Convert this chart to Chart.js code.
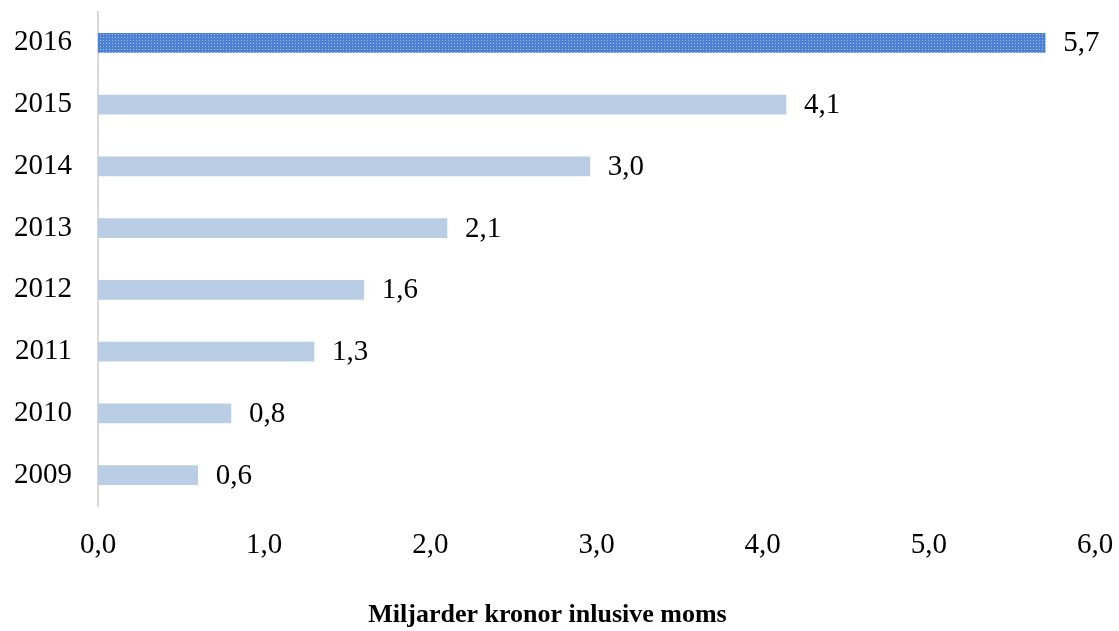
<!DOCTYPE html>
<html>
<head>
<meta charset="utf-8">
<script src="https://cdn.jsdelivr.net/npm/chart.js@4"></script>
<style>
  html, body { margin: 0; padding: 0; background: #fff; }
  #wrap { width: 1119px; height: 631px; }
</style>
</head>
<body>
<div id="wrap"><canvas id="salesChart"></canvas></div>
<script>
const years = ['2009', '2010', '2011', '2012', '2013', '2014', '2015', '2016'];
const sales = [0.6, 0.8, 1.3, 1.6, 2.1, 2.96, 4.14, 5.7];
const xTicks = [0, 1, 2, 3, 4, 5, 6];

const serif = '"Liberation Serif", "Times New Roman", serif';

function comma(v) {
  return v.toFixed(1).replace('.', ',');
}

// dotted fill used for the latest year
function dotPattern() {
  const c = document.createElement('canvas');
  c.width = 3; c.height = 3;
  const g = c.getContext('2d');
  g.fillStyle = '#4b80d3';
  g.fillRect(0, 0, 3, 3);
  g.fillStyle = '#a3c0eb';
  g.fillRect(1, 1, 1, 1);
  return g.createPattern(c, 'repeat');
}

const barLabels = {
  id: 'barLabels',
  afterDatasetsDraw(chart) {
    const ctx = chart.ctx;
    const meta = chart.getDatasetMeta(0);
    ctx.save();
    ctx.font = '29px ' + serif;
    ctx.fillStyle = '#000';
    ctx.textBaseline = 'middle';
    ctx.textAlign = 'left';
    meta.data.forEach(function(bar, i) {
      ctx.fillText(comma(sales[i]), bar.x + 18, bar.y + 1);
    });
    ctx.restore();
  }
};

document.addEventListener('DOMContentLoaded', function() {
  const ctx = document.getElementById('salesChart').getContext('2d');
  const pattern = dotPattern();
  new Chart(ctx, {
    type: 'bar',
    data: {
      labels: years,
      datasets: [{
        data: sales,
        backgroundColor: years.map(function(y, i) { return i === years.length - 1 ? pattern : '#b9cde5'; }),
        barThickness: 19
      }]
    },
    options: {
      indexAxis: 'y',
      responsive: true,
      maintainAspectRatio: false,
      animation: false,
      layout: { padding: { top: 12, right: 24, left: 0, bottom: 0 } },
      plugins: {
        legend: { display: false },
        tooltip: { enabled: false },
        title: {
          display: true,
          position: 'bottom',
          text: 'Miljarder kronor inlusive moms',
          color: '#000',
          font: { family: serif, size: 26, weight: 'bold' },
          padding: { top: 15, bottom: 0 }
        }
      },
      scales: {
        x: {
          min: 0,
          max: 6,
          afterBuildTicks: function(axis) {
            axis.ticks = xTicks.map(function(v) { return { value: v }; });
          },
          afterFit: function(axis) {
            axis.paddingLeft = 0;
            axis.paddingRight = 0;
          },
          grid: { display: false, drawTicks: false },
          border: { display: false },
          ticks: {
            color: '#000',
            padding: 22,
            font: { family: serif, size: 29 },
            callback: function(v) { return comma(v); }
          }
        },
        y: {
          reverse: true,
          afterFit: function(axis) {
            axis.width = 98;
            axis.paddingTop = 0;
            axis.paddingBottom = 0;
          },
          grid: { display: false, drawTicks: false },
          border: { display: true, color: '#d9d9d9', width: 2 },
          ticks: {
            color: '#000',
            padding: 26,
            font: { family: serif, size: 29 }
          }
        }
      }
    },
    plugins: [barLabels]
  });
});
</script>
</body>
</html>
